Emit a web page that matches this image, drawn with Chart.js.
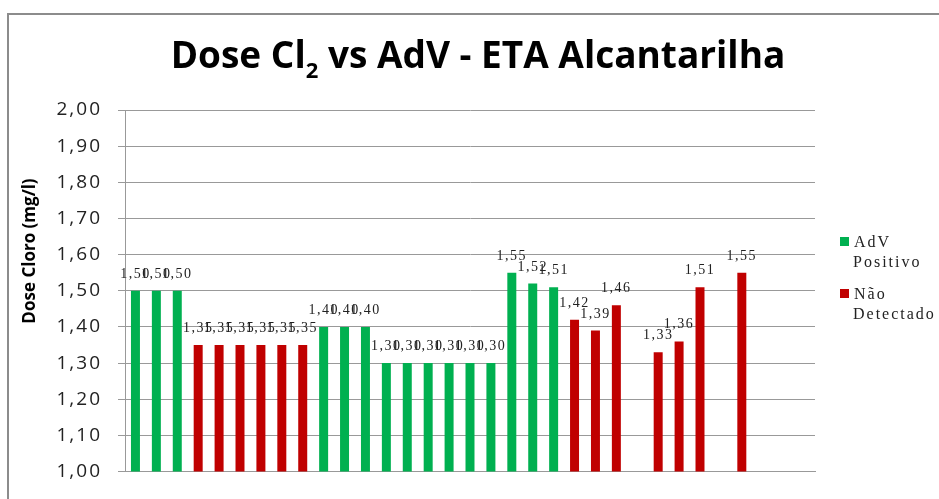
<!DOCTYPE html>
<html>
<head>
<meta charset="utf-8">
<script src="https://cdn.jsdelivr.net/npm/chart.js@4.4.1/dist/chart.umd.min.js"></script>
<style>
    body { margin: 0; background: #fff; }
</style>
</head>
<body>
<canvas id="doseChart" width="939" height="499"></canvas>
<script>
// sample slots along the x axis (no labels shown in the original)
const categories = ["1", "2", "3", "4", "5", "6", "7", "8", "9", "10", "11", "12", "13", "14", "15", "16", "17",
    "18", "19", "20", "21", "22", "23", "24", "25", "26", "27", "28", "29", "30", "31", "32", "33"];

const advPositivo = [1.50, 1.50, 1.50, null, null, null, null, null, null, 1.40, 1.40, 1.40,
    1.30, 1.30, 1.30, 1.30, 1.30, 1.30, 1.55, 1.52, 1.51, null, null, null,
    null, null, null, null, null, null, null, null, null];

const naoDetectado = [null, null, null, 1.35, 1.35, 1.35, 1.35, 1.35, 1.35, null, null, null,
    null, null, null, null, null, null, null, null, null, 1.42, 1.39, 1.46,
    null, 1.33, 1.36, 1.51, null, 1.55, null, null, null];

const seriesNames = [["AdV", "Positivo"], ["Não", "Detectado"]];
const seriesColors = ["#00B050", "#C00000"];
const yTicks = [1.0, 2.0, 0.1]; // min, max, step

function fmt(v) {
    return v.toFixed(2).replace(".", ",");
}

// frame, title, legend and value labels drawn on the canvas
const decorPlugin = {
    id: "decor",
    beforeDraw(chart) {
        const ctx = chart.ctx;
        ctx.save();
        ctx.strokeStyle = "#8c8c8c";
        ctx.lineWidth = 2;
        ctx.strokeRect(8, 14, 1000, 1000);
        ctx.restore();
        ctx.letterSpacing = "2px"; // wide tick labels like the original
    },
    afterDatasetsDraw(chart) {
        const ctx = chart.ctx;
        ctx.save();
        ctx.font = "14px 'Liberation Serif'";
        ctx.letterSpacing = "1.5px";
        ctx.fillStyle = "#222";
        ctx.textAlign = "center";
        ctx.textBaseline = "alphabetic";
        chart.data.datasets.forEach(function (ds, i) {
            const meta = chart.getDatasetMeta(i);
            meta.data.forEach(function (bar, j) {
                if (ds.data[j] == null) return;
                ctx.fillText(fmt(ds.data[j]), bar.x, bar.y - 13);
            });
        });
        ctx.restore();
    },
    afterDraw(chart) {
        const ctx = chart.ctx;
        ctx.save();
        ctx.letterSpacing = "0px";

        // title with subscript
        const big = "bold 37px 'Open Sans'";
        const small = "bold 22px 'Open Sans'";
        const parts = [["Dose Cl", big, 0], ["2", small, 10], [" vs AdV - ETA Alcantarilha", big, 0]];
        let total = 0;
        parts.forEach(function (p) { ctx.font = p[1]; total += ctx.measureText(p[0]).width; });
        let x = 478 - total / 2;
        ctx.fillStyle = "#000";
        ctx.textBaseline = "alphabetic";
        ctx.textAlign = "left";
        parts.forEach(function (p) {
            ctx.font = p[1];
            ctx.fillText(p[0], x, 68 + p[2]);
            x += ctx.measureText(p[0]).width;
        });

        // y axis title
        ctx.save();
        ctx.translate(30, 251);
        ctx.rotate(-Math.PI / 2);
        ctx.font = "bold 17px 'Open Sans'";
        ctx.textAlign = "center";
        ctx.textBaseline = "middle";
        ctx.fillText("Dose Cloro (mg/l)", 0, 0);
        ctx.restore();

        // legend
        const legendTop = [237, 289];
        seriesNames.forEach(function (name, i) {
            ctx.fillStyle = seriesColors[i];
            ctx.fillRect(840, legendTop[i], 9, 9);
            ctx.font = "16px 'Liberation Serif'";
            ctx.letterSpacing = "2px";
            ctx.fillStyle = "#222";
            ctx.textAlign = "left";
            ctx.fillText(name[0], 854, legendTop[i] + 10);
            ctx.fillText(name[1], 853, legendTop[i] + 30);
        });
        ctx.restore();
        ctx.letterSpacing = "0px";
    }
};

const ctx = document.getElementById("doseChart").getContext("2d");

const chart = new Chart(ctx, {
    type: "bar",
    data: {
        labels: categories,
        datasets: [{
            label: seriesNames[0].join(" "),
            data: advPositivo,
            backgroundColor: seriesColors[0],
            barPercentage: 0.43,
            categoryPercentage: 1
        }, {
            label: seriesNames[1].join(" "),
            data: naoDetectado,
            backgroundColor: seriesColors[1],
            barPercentage: 0.43,
            categoryPercentage: 1
        }]
    },
    options: {
        responsive: false,
        animation: false,
        layout: {
            padding: { left: 0, top: 110, right: 124, bottom: 19 }
        },
        plugins: {
            legend: { display: false },
            title: { display: false },
            tooltip: { enabled: false }
        },
        scales: {
            x: {
                stacked: true,
                grid: { display: false },
                border: { display: true, color: "#999", width: 1 },
                ticks: { display: false },
                afterFit: function (scale) { scale.height = 0; }
            },
            y: {
                min: yTicks[0],
                max: yTicks[1],
                grid: { color: "#999", tickLength: 7, drawTicks: true },
                border: { display: true, color: "#999", width: 1 },
                ticks: {
                    stepSize: yTicks[2],
                    padding: 16,
                    color: "#222",
                    font: { family: "'Open Sans'", size: 19 },
                    callback: function (value) { return fmt(value); }
                },
                afterFit: function (scale) { scale.width = 125; }
            }
        }
    },
    plugins: [decorPlugin]
});
</script>
</body>
</html>
